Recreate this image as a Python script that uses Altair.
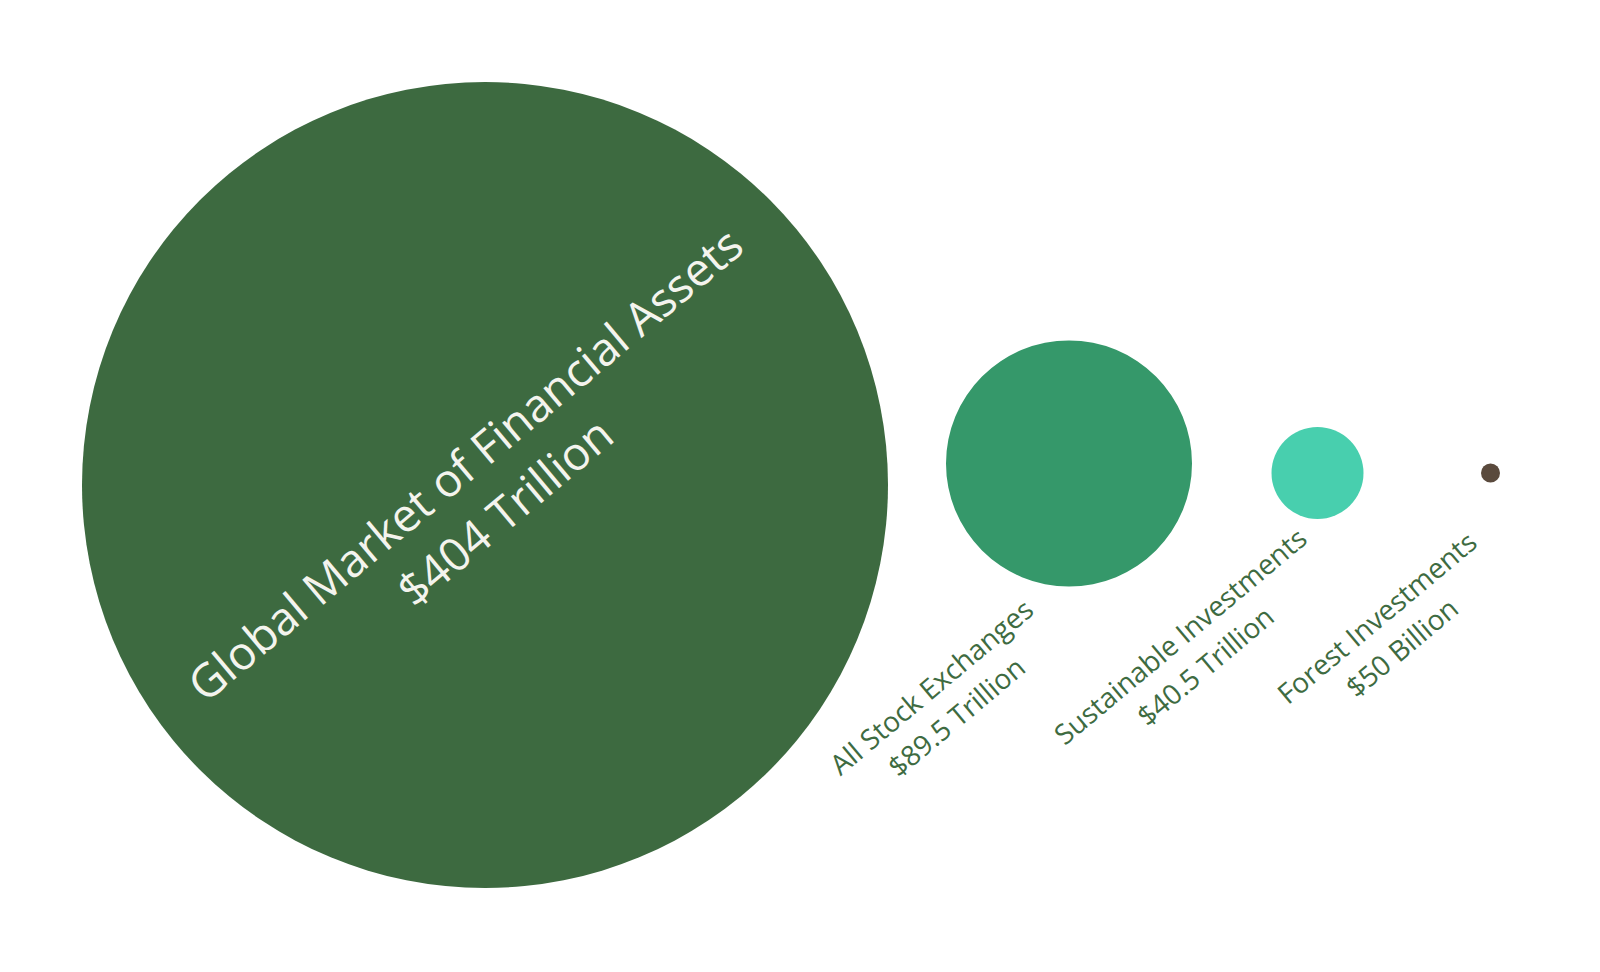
import altair as alt
import pandas as pd

# ---- data ----
categories = [
    "Global Market of Financial Assets",
    "All Stock Exchanges",
    "Sustainable Investments",
    "Forest Investments",
]
amount_labels = ["$404 Trillion", "$89.5 Trillion", "$40.5 Trillion", "$50 Billion"]
values_billions = [404000, 89500, 40500, 50]
colors = ["#3d6a40", "#35986a", "#48cfae", "#5a4a3d"]

df = pd.DataFrame({
    "category": categories,
    "amount": amount_labels,
    "value": values_billions,
    "rank": list(range(len(categories))),
})
df["label"] = df["category"] + "\n" + df["amount"]

# ---- scales (layout) ----
x_enc = alt.X("rank:Q", axis=None,
              scale=alt.Scale(domain=[0, 1, 2, 3], range=[477, 1061, 1309.5, 1482.5]))
y_enc = alt.Y("rank:Q", axis=None,
              scale=alt.Scale(domain=[0, 1, 2, 3], range=[477, 455.5, 465, 465]))

base = alt.Chart(df)

circles = base.mark_circle(opacity=1).encode(
    x=x_enc,
    y=y_enc,
    size=alt.Size("value:Q", legend=None,
                  scale=alt.Scale(domain=[50, 40500, 89500, 404000],
                                  range=[361, 8464, 60516, 649636], zero=False)),
    color=alt.Color("category:N", legend=None,
                    scale=alt.Scale(domain=categories, range=colors)),
)

# dx / dy are applied in the rotated text frame
label_styles = [
    dict(angle=320, fontSize=46, lineHeight=62, color="#f4f4ee", dx=-2, dy=-26),
    dict(angle=320, fontSize=28, lineHeight=39, color="#3e6b41", dx=-249, dy=85),
    dict(angle=320, fontSize=28, lineHeight=39, color="#3e6b41", dx=-210, dy=39),
    dict(angle=320, fontSize=28, lineHeight=39, color="#3e6b41", dx=-180, dy=40),
]

layers = [circles]
for i, st in enumerate(label_styles):
    layers.append(
        base.transform_filter(alt.datum.rank == i).mark_text(
            align="center", baseline="middle", font="Open Sans",
            lineBreak="\n", **st
        ).encode(x=x_enc, y=y_enc, text="label:N")
    )

chart = alt.layer(*layers).properties(
    width=1584, height=956, autosize="none", padding=0, background="white"
).configure_view(stroke=None)

chart.save("out.html", embed_options={"renderer": "svg", "actions": False})
